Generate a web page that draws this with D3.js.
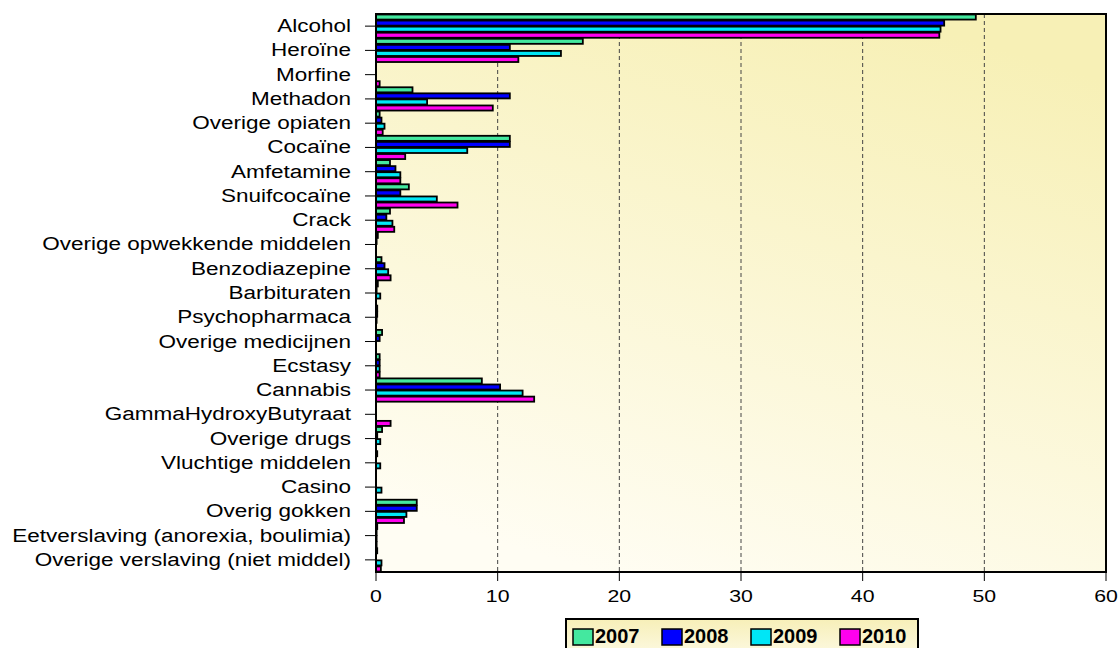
<!DOCTYPE html>
<html>
<head>
<meta charset="utf-8">
<script src="https://cdn.jsdelivr.net/npm/d3@7"></script>
<style>
    body{margin:0;background:#fff;}
    svg{display:block;font-family:"Liberation Sans",Arial,sans-serif;}
</style>
</head>
<body>
<div id="chart"></div>
<script>
'use strict';
// categories, top to bottom
var categories=['Alcohol','Heroïne','Morfine','Methadon','Overige opiaten','Cocaïne',
    'Amfetamine','Snuifcocaïne','Crack','Overige opwekkende middelen','Benzodiazepine',
    'Barbituraten','Psychopharmaca','Overige medicijnen','Ecstasy','Cannabis',
    'GammaHydroxyButyraat','Overige drugs','Vluchtige middelen','Casino','Overig gokken',
    'Eetverslaving (anorexia, boulimia)','Overige verslaving (niet middel)'];
var years=['2007','2008','2009','2010'];
var values2007=[49.3,17.0,0,3.0,0.3,11.0,1.15,2.7,1.15,0.15,0.45,0.15,0.1,0.5,0.3,8.7,0,0.5,0.1,0,3.35,0.1,0.1];
var values2008=[46.7,11.0,0,11.0,0.45,11.0,1.6,2.0,0.85,0.05,0.7,0.05,0.1,0.3,0.3,10.2,0,0.1,0,0,3.35,0.05,0];
var values2009=[46.4,15.2,0,4.2,0.7,7.5,2.0,5.0,1.35,0,1.0,0.35,0.05,0,0.3,12.05,0,0.35,0.35,0.45,2.5,0.05,0.45];
var values2010=[46.3,11.7,0.3,9.6,0.55,2.4,2.0,6.7,1.5,0,1.2,0,0,0,0.3,13.0,1.2,0,0,0,2.3,0.05,0.4];
var xTicks=[0,10,20,30,40,50,60];
var colors=['#44e89f','#0000ff','#00e6f6','#ff00ee'];

var W=1120,H=648;
var plot={left:376,top:14,right:1106,bottom:572};
var textStretch=1.25;//labels in the picture are wider than plain arial

var series=[values2007,values2008,values2009,values2010];

var svg=d3.select('#chart').append('svg')
    .attr('width',W).attr('height',H);

var defs=svg.append('defs');
var bg=defs.append('linearGradient').attr('id','plotBg')
    .attr('x1','0.3').attr('y1','1').attr('x2','0.7').attr('y2','0');
bg.append('stop').attr('offset','0').attr('stop-color','#fffdf3');
bg.append('stop').attr('offset','1').attr('stop-color','#f7f0b6');
var lg=defs.append('linearGradient').attr('id','legendBg')
    .attr('x1','0').attr('y1','0').attr('x2','0').attr('y2','1');
lg.append('stop').attr('offset','0').attr('stop-color','#f7efb8');
lg.append('stop').attr('offset','1').attr('stop-color','#fdfae6');

var x=d3.scaleLinear().domain([0,60]).range([plot.left,plot.right]);
var y=d3.scaleBand().domain(categories).range([plot.top,plot.bottom]).padding(0);
var sub=d3.scaleBand().domain(years).range([0,y.bandwidth()]).padding(0);

// background
svg.append('rect')
    .attr('x',plot.left).attr('y',plot.top)
    .attr('width',plot.right-plot.left).attr('height',plot.bottom-plot.top)
    .attr('fill','url(#plotBg)');

// dashed grid
svg.append('g').selectAll('line')
    .data(xTicks.filter(function(d){return d>0&&d<60;}))
    .join('line')
    .attr('x1',function(d){return x(d);}).attr('x2',function(d){return x(d);})
    .attr('y1',plot.top).attr('y2',plot.bottom)
    .attr('stroke','#444').attr('stroke-width',1)
    .attr('stroke-dasharray','4,3');

// bars
var rows=[];
categories.forEach(function(c,i){
    years.forEach(function(yr,j){
        rows.push({cat:c,year:yr,value:series[j][i],color:colors[j]});
    });
});
svg.append('g').selectAll('rect')
    .data(rows)
    .join('rect')
    .attr('x',x(0))
    .attr('y',function(d){return y(d.cat)+sub(d.year)+0.5;})
    .attr('width',function(d){return x(d.value)-x(0);})
    .attr('height',sub.bandwidth()-1)
    .attr('fill',function(d){return d.color;})
    .attr('stroke','#000').attr('stroke-width',1.8);

// frame
svg.append('rect')
    .attr('x',plot.left).attr('y',plot.top)
    .attr('width',plot.right-plot.left).attr('height',plot.bottom-plot.top)
    .attr('fill','none').attr('stroke','#000').attr('stroke-width',2);

// y axis: ticks + stretched labels
var yAxis=svg.append('g');
yAxis.selectAll('line')
    .data(categories)
    .join('line')
    .attr('x1',plot.left-11).attr('x2',plot.left)
    .attr('y1',function(d){return y(d)+y.bandwidth()/2;})
    .attr('y2',function(d){return y(d)+y.bandwidth()/2;})
    .attr('stroke','#000').attr('stroke-width',1);
yAxis.selectAll('text')
    .data(categories)
    .join('text')
    .attr('transform',function(d){
        return 'translate(351,'+(y(d)+y.bandwidth()/2+6)+') scale('+textStretch+',1)';
    })
    .attr('text-anchor','end')
    .attr('font-size',18)
    .attr('fill','#000')
    .text(function(d){return d;});

// x axis
var xAxis=svg.append('g');
xAxis.selectAll('line')
    .data(xTicks)
    .join('line')
    .attr('x1',function(d){return x(d);}).attr('x2',function(d){return x(d);})
    .attr('y1',plot.bottom).attr('y2',plot.bottom+9)
    .attr('stroke','#000').attr('stroke-width',1);
xAxis.selectAll('text')
    .data(xTicks)
    .join('text')
    .attr('transform',function(d){
        return 'translate('+x(d)+',602) scale('+textStretch+',1)';
    })
    .attr('text-anchor','middle')
    .attr('font-size',17)
    .attr('fill','#000')
    .text(function(d){return d;});

// legend (sits on the bottom edge, as in the picture)
var legend=svg.append('g').attr('transform','translate(566,619)');
legend.append('rect')
    .attr('x',0).attr('y',0).attr('width',352).attr('height',40)
    .attr('fill','url(#legendBg)').attr('stroke','#000').attr('stroke-width',2);
var item=legend.selectAll('g.item')
    .data(years)
    .join('g').attr('class','item')
    .attr('transform',function(d,i){return 'translate('+(7+i*89)+',0)';});
item.append('rect')
    .attr('x',0).attr('y',10).attr('width',20).attr('height',16)
    .attr('fill',function(d,i){return colors[i];})
    .attr('stroke','#000').attr('stroke-width',1.5);
item.append('text')
    .attr('x',22).attr('y',24)
    .attr('font-size',20).attr('font-weight','bold')
    .attr('fill','#000')
    .text(function(d){return d;});
</script>
</body>
</html>
